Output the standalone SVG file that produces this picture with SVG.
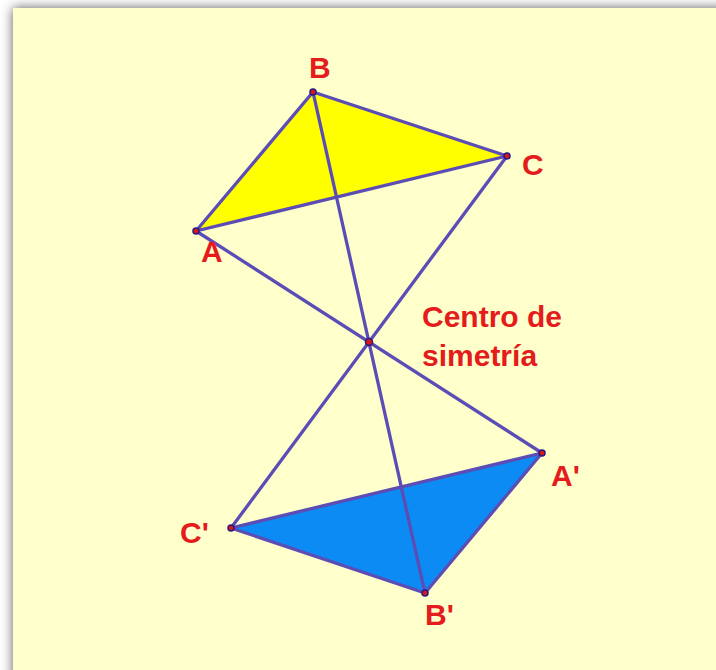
<svg xmlns="http://www.w3.org/2000/svg" width="716" height="670" viewBox="0 0 716 670">
  <defs>
    <filter id="shadow" x="-5%" y="-5%" width="110%" height="110%">
      <feDropShadow dx="0" dy="0" stdDeviation="6" flood-color="#444" flood-opacity="0.9"/>
    </filter>
    <style>
      .edge { stroke: #5b4db5; stroke-width: 3.3; fill: none; stroke-linecap: round; stroke-linejoin: round; }
      .pt { fill: #d81818; stroke: #2a1a80; stroke-width: 1.5; }
      .lbl { font-family: "Liberation Sans", Arial, sans-serif; font-weight: bold; font-size: 30px; fill: #e41c1c; }
    </style>
  </defs>
  <rect x="0" y="0" width="716" height="670" fill="#ffffff"/>
  <rect id="background" x="13" y="8" width="720" height="690" fill="#FFFFCC" filter="url(#shadow)"/>

  <g id="triangle-ABC">
    <polygon points="196,231 313,92 507,156" fill="#FFFF00"/>
  </g>
  <g id="triangle-A2B2C2">
    <polygon points="542,453 425,593 231,528" fill="#0B8BF3"/>
  </g>

  <g id="connectors">
    <polygon class="edge" points="196,231 313,92 507,156"/>
    <polygon class="edge" points="542,453 425,593 231,528"/>
    <line class="edge" x1="196" y1="231" x2="542" y2="453"/>
    <line class="edge" x1="313" y1="92" x2="425" y2="593"/>
    <line class="edge" x1="507" y1="156" x2="231" y2="528"/>
  </g>

  <g id="node-A"><circle class="pt" cx="196" cy="231" r="3"/><text class="lbl" x="201" y="262">A</text></g>
  <g id="node-B"><circle class="pt" cx="313" cy="92" r="3"/><text class="lbl" x="309" y="78">B</text></g>
  <g id="node-C"><circle class="pt" cx="507" cy="156" r="3"/><text class="lbl" x="522" y="175">C</text></g>
  <g id="node-O"><circle class="pt" cx="369" cy="342" r="3.5"/>
    <text class="lbl" x="422" y="327">Centro de</text>
    <text class="lbl" x="422" y="366">simetría</text>
  </g>
  <g id="node-A2"><circle class="pt" cx="542" cy="453" r="3"/><text class="lbl" x="551" y="486">A'</text></g>
  <g id="node-B2"><circle class="pt" cx="425" cy="593" r="3"/><text class="lbl" x="425" y="625">B'</text></g>
  <g id="node-C2"><circle class="pt" cx="231" cy="528" r="3"/><text class="lbl" x="180" y="543">C'</text></g>
</svg>
